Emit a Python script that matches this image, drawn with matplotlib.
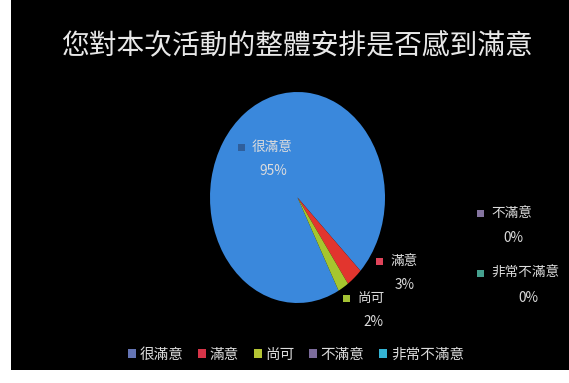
import matplotlib
matplotlib.use("Agg")
import matplotlib.pyplot as plt
from matplotlib.patches import Rectangle, Patch

plt.rcParams['font.family'] = ['Noto Sans CJK TC', 'DejaVu Sans']

title = "您對本次活動的整體安排是否感到滿意"
categories = ["很滿意", "滿意", "尚可", "不滿意", "非常不滿意"]
values = [95, 3, 2, 0, 0]
pct_labels = ["95%", "3%", "2%", "0%", "0%"]

pie_colors = ["#3a88dc", "#e2352e", "#a6c62e", "#7d6ea0", "#3fa895"]
legend_colors = ["#6474b4", "#d63448", "#b4c434", "#7c6c9c", "#34b4d4"]
label_marker_colors = ["#2f5f9c", "#e0445a", "#a4c234", "#84749f", "#45a08e"]

W, H = 569, 383
fig = plt.figure(figsize=(W / 100, H / 100), dpi=100)
fig.patch.set_facecolor("white")

# black chart area
bg = fig.add_axes([0, 0, 1, 1])
bg.set_xlim(0, W)
bg.set_ylim(H, 0)
bg.axis("off")
bg.add_patch(Rectangle((11, 0), W - 11, 370, facecolor="black", edgecolor="none"))

def fx(x):
    return x / W

def fy(y):
    return 1 - y / H

# pie (elliptical, as in reference)
left, right, top, bottom = 210, 385, 92, 303
pax = fig.add_axes([fx(left), fy(bottom), (right - left) / W, (bottom - top) / H])
pax.pie(values, colors=pie_colors, startangle=-62, counterclock=False,
        radius=1.0, wedgeprops=dict(linewidth=0))
pax.set_aspect("auto")
pax.set_xlim(-1, 1)
pax.set_ylim(-1, 1)
pax.axis("off")

# overlay for labels, on top of the pie
top_ax = fig.add_axes([0, 0, 1, 1])
top_ax.set_xlim(0, W)
top_ax.set_ylim(H, 0)
top_ax.axis("off")
top_ax.patch.set_alpha(0)

txt_color = "#dcdcdc"

fig.text(fx(297), fy(45), title, ha="center", va="center", fontsize=20,
         color="#e8e8e8")

# data labels: (marker x, name y, pct center x, pct y)
label_pos = [
    (242, 147, 273, 171),
    (380, 261, 405, 285),
    (347, 298, 373, 322),
    (481, 213, 513, 238),
    (481, 273, 528, 298),
]
for (mx, my, px, py), name, pct, mc in zip(label_pos, categories, pct_labels,
                                           label_marker_colors):
    top_ax.add_patch(Rectangle((mx - 3.5, my - 3.5), 7, 7, facecolor=mc,
                               edgecolor="none"))
    top_ax.text(mx + 10, my, name, ha="left", va="center", fontsize=9.8,
                color=txt_color)
    top_ax.text(px, py, pct, ha="center", va="center", fontsize=9.8,
                color=txt_color)

handles = [Patch(facecolor=c, edgecolor="none") for c in legend_colors]
leg = fig.legend(handles, categories, loc="center",
                 bbox_to_anchor=(fx(296), fy(355)), ncol=5, frameon=False,
                 fontsize=10.5, handlelength=0.55, handleheight=0.55,
                 handletextpad=0.25, columnspacing=1.0, labelcolor=txt_color)

fig.savefig("out.png", dpi=100, facecolor="white")
